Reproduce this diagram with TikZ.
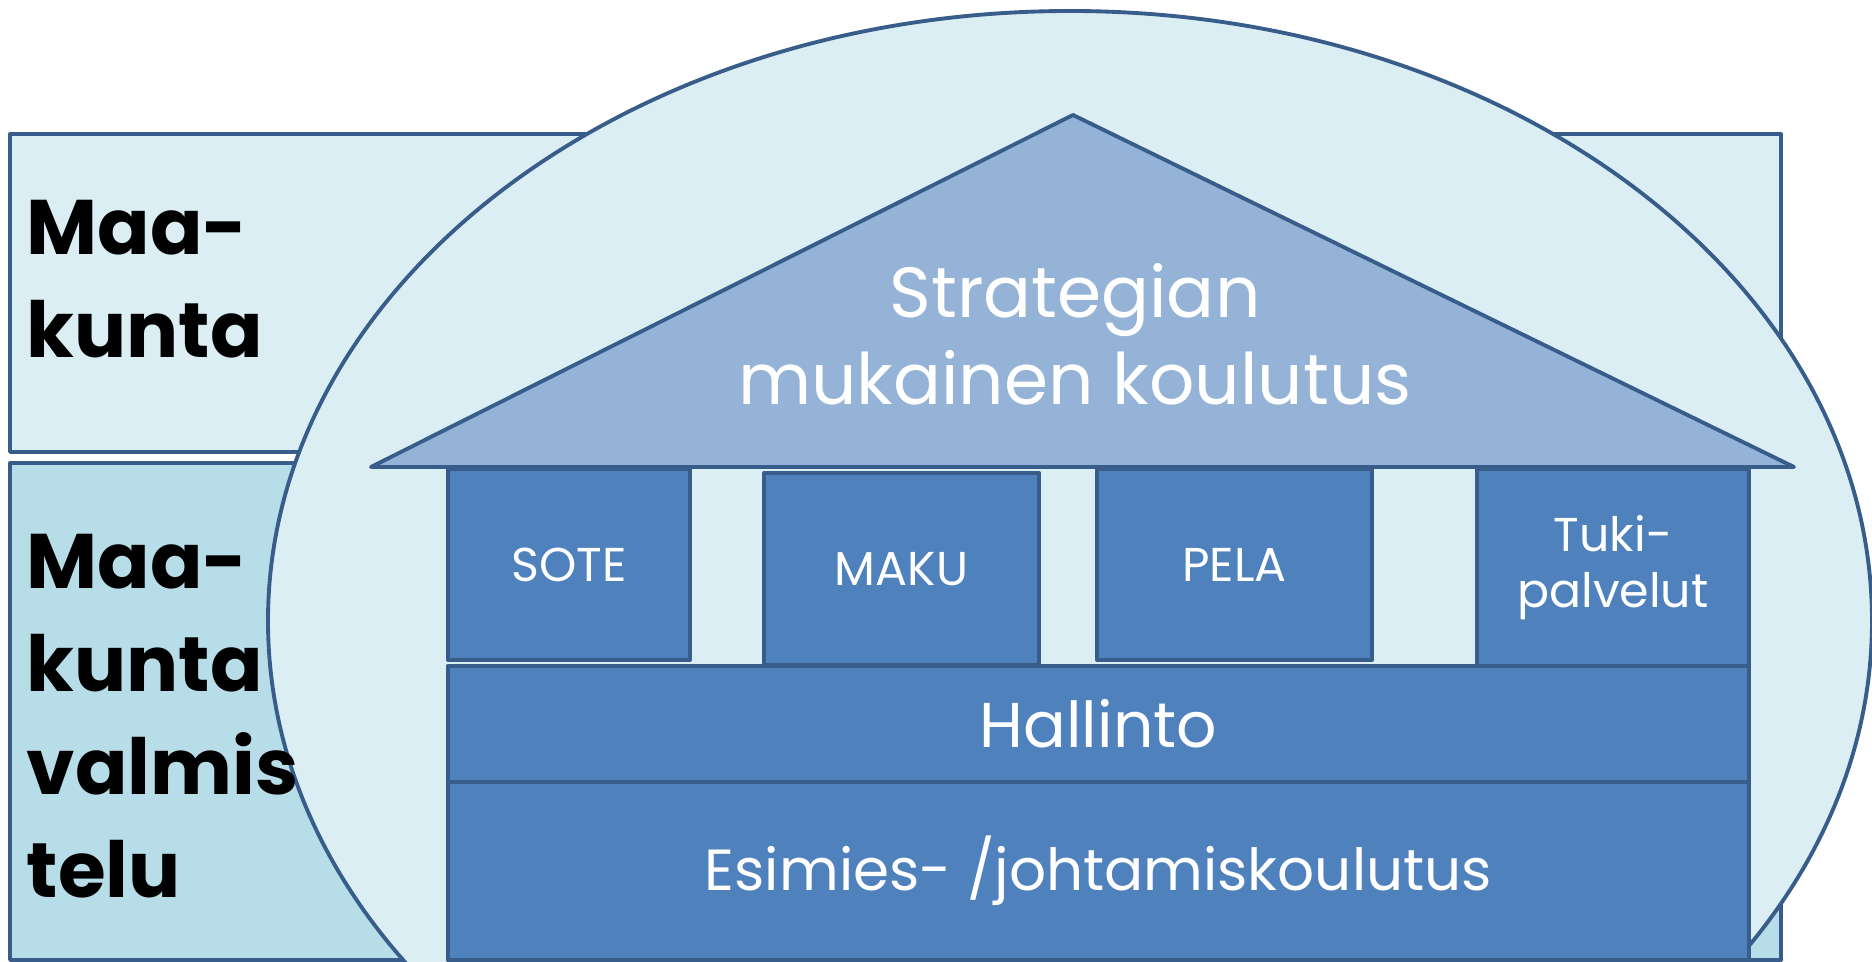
\documentclass[tikz,border=0pt]{standalone}
\usepackage{fontspec}
\setmainfont{Poppins}
\usepackage{tikz}
\definecolor{paleblue}{HTML}{DBEEF4}
\definecolor{midcyan}{HTML}{B7DDE8}
\definecolor{edgeblue}{HTML}{385D8A}
\definecolor{roofblue}{HTML}{95B3D7}
\definecolor{boxblue}{HTML}{4F81BD}
\tikzset{
  outline/.style={draw=edgeblue, line width=1.1pt, line join=round},
  pillar/.style={outline, fill=boxblue, text=white, inner sep=0pt, align=center,
    font=\fontsize{13.5}{16}\selectfont},
  floor/.style={pillar, minimum width=13.01cm, font=\fontsize{18}{21}\selectfont},
  sidelabel/.style={anchor=base west, align=left, inner sep=0pt,
    font=\bfseries\fontsize{22}{29.3}\selectfont}
}

\begin{document}
\begin{tikzpicture}[x=0.01cm,y=-0.01cm]
\useasboundingbox (0,0) rectangle (1872,962);
\draw[outline,fill=paleblue] (10,134) -- (1781,134) -- (1781,452) -- (10,452) -- cycle;
\draw[outline,fill=midcyan] (10,463) -- (1781,463) -- (1781,960) -- (10,960) -- cycle;
\draw[outline,fill=paleblue] (1070,621) ellipse [x radius=802, y radius=610];
\node[pillar, minimum width=2.42cm, minimum height=1.91cm] (sote) at (569,564.5) {SOTE};
\node[pillar, minimum width=2.75cm, minimum height=1.92cm] (maku) at (901.5,569) {MAKU};
\node[pillar, minimum width=2.75cm, minimum height=1.91cm] (pela) at (1234.5,564.5) {PELA};
\node[pillar, minimum width=2.72cm, minimum height=1.97cm] (tuki) at (1613,567.5) {Tuki-\\palvelut};
\draw[outline,fill=roofblue] (371,467) -- (1073,115) -- (1794,467) -- cycle;
\node[text=white, align=center, font=\fontsize{20.2}{24.8}\selectfont] (strategia) at (1075,334) {Strategian\\mukainen koulutus};
\node[floor, minimum height=1.16cm] (hallinto) at (1098.5,724) {Hallinto};
\node[floor, minimum height=1.78cm, font=\fontsize{16.5}{20}\selectfont] (esimies) at (1098.5,871) {Esimies- /johtamiskoulutus};
\node[sidelabel] (maakunta) at (26,358) {Maa-\\kunta};
\node[sidelabel] (valmistelu) at (26,898) {Maa-\\kunta\\valmis\\telu};
\end{tikzpicture}
\end{document}
